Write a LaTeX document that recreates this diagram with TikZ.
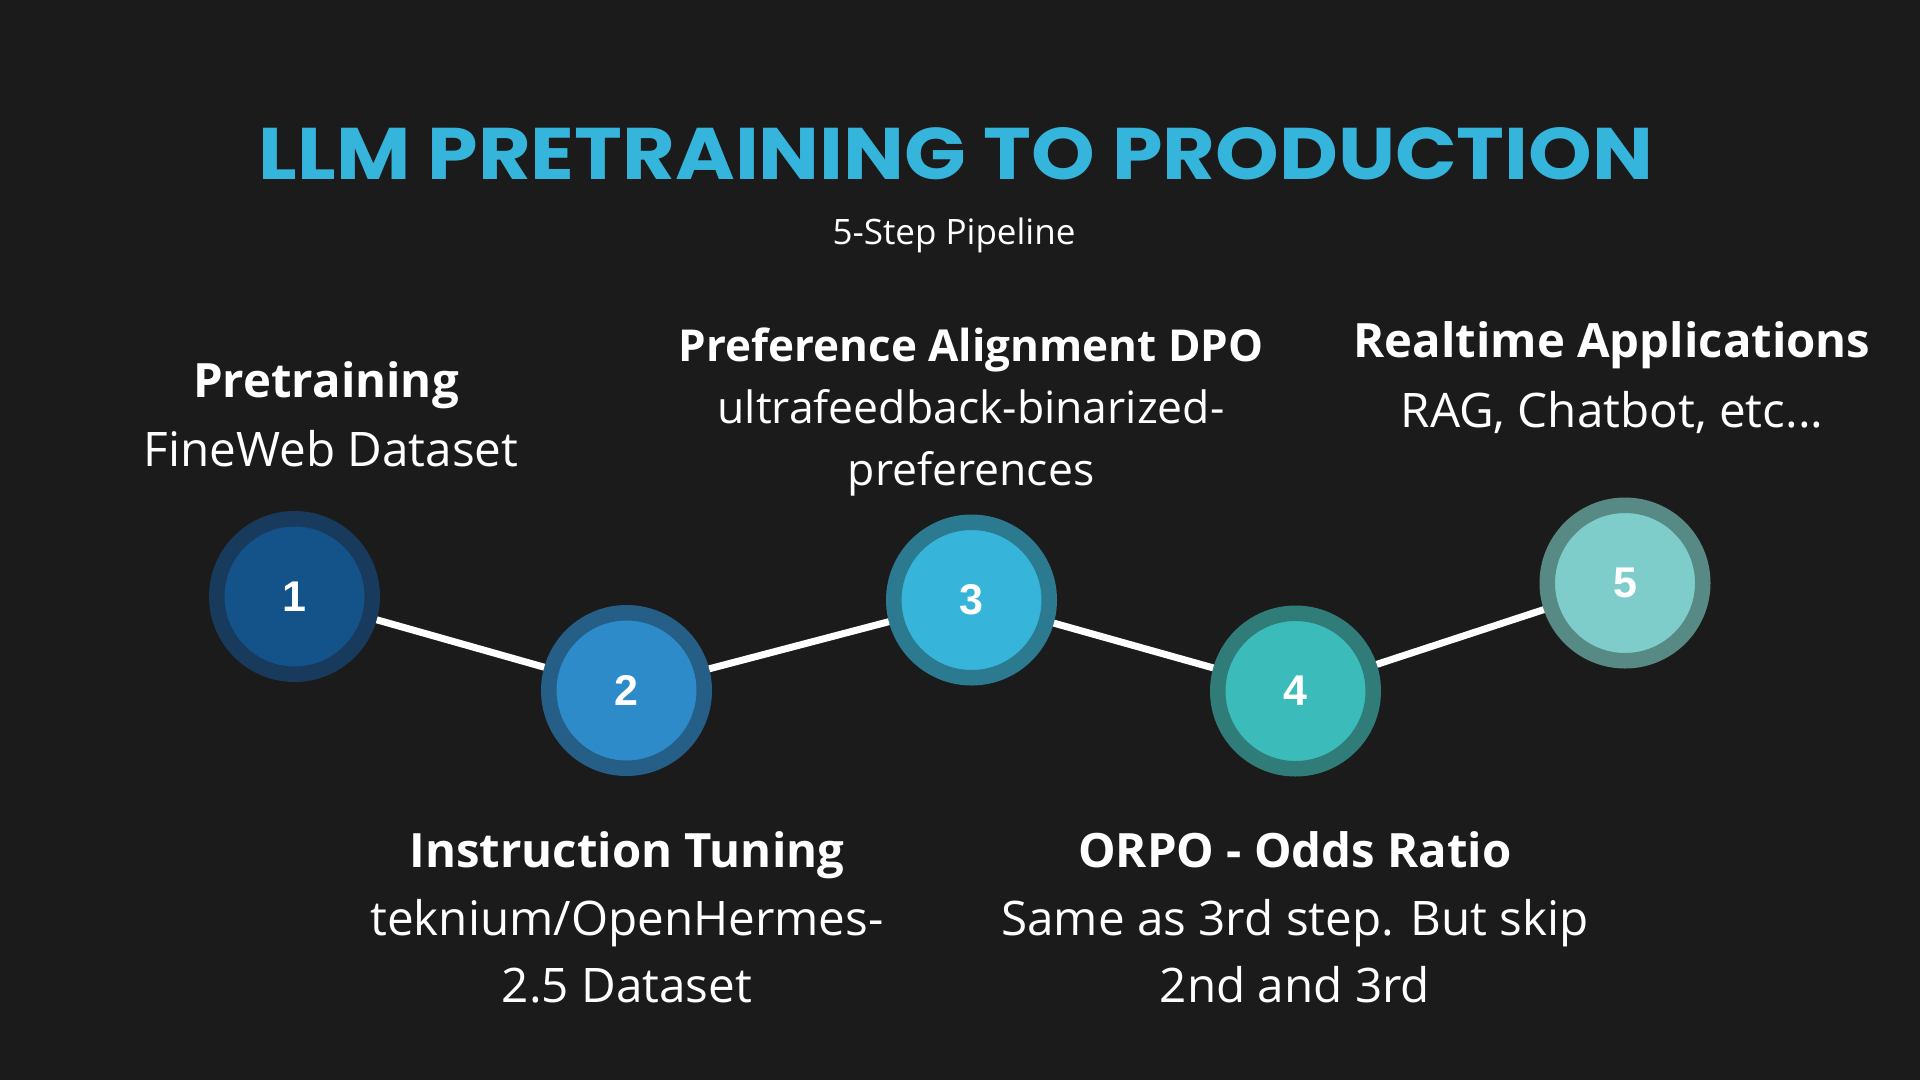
\documentclass[tikz,border=0pt]{standalone}
\usepackage{fontspec}
\setmainfont{Open Sans}
\newfontfamily\titlefont{Poppins}
\newfontfamily\numfont{Liberation Sans}
\definecolor{bg}{HTML}{1B1B1B}
\definecolor{titleblue}{HTML}{36B5DC}
\definecolor{cAout}{HTML}{183A5C}
\definecolor{cAin}{HTML}{14538A}
\definecolor{cBout}{HTML}{255F87}
\definecolor{cBin}{HTML}{2D8BCA}
\definecolor{cCout}{HTML}{2B7A8F}
\definecolor{cCin}{HTML}{36B4D9}
\definecolor{cDout}{HTML}{2F7C79}
\definecolor{cDin}{HTML}{3BBCBB}
\definecolor{cEout}{HTML}{578985}
\definecolor{cEin}{HTML}{7FCDCA}
\tikzset{
  stepcircle/.style={circle, minimum size=155.5pt, inner sep=0pt, line width=15.5pt,
    text=white, font=\numfont\bfseries\fontsize{43}{43}\selectfont},
  conn/.style={draw=white, line width=7pt},
  lbl/.style={anchor=base, inner sep=0pt, text=white},
  headA/.style={lbl, font=\bfseries\fontsize{47.3}{47.3}\selectfont},
  bodyA/.style={lbl, font=\fontsize{47.6}{47.6}\selectfont},
  headB/.style={lbl, font=\bfseries\fontsize{44}{44}\selectfont},
  bodyB/.style={lbl, font=\fontsize{44.5}{44.5}\selectfont}
}
\begin{document}
\begin{tikzpicture}[x=1pt,y=-1pt]
\fill[bg] (0,0) rectangle (1920,1080);
\useasboundingbox (0,0) rectangle (1920,1080);

\node[lbl, text=titleblue] (title) at (956,179)
  {\resizebox{1394pt}{52pt}{\titlefont\bfseries LLM PRETRAINING TO PRODUCTION}};
\node[lbl, font=\fontsize{35}{35}\selectfont] (subtitle) at (954,244) {5-Step Pipeline};

\node[stepcircle, fill=cAin, draw=cAout] (c1) at (294.5,596.5) {1};
\node[stepcircle, fill=cBin, draw=cBout] (c2) at (626.5,690.5) {2};
\node[stepcircle, fill=cCin, draw=cCout] (c3) at (971.5,600) {3};
\node[stepcircle, fill=cDin, draw=cDout] (c4) at (1295.5,691) {4};
\node[stepcircle, fill=cEin, draw=cEout] (c5) at (1625,583) {5};

\draw[conn] (c1) -- (c2);
\draw[conn] (c2) -- (c3);
\draw[conn] (c3) -- (c4);
\draw[conn] (c4) -- (c5);

\node[headA] (h1) at (326,397) {Pretraining};
\node[bodyA] (b1) at (331,466) {FineWeb Dataset};

\node[headA] (h2) at (627,867) {Instruction Tuning};
\node[bodyA] (b2a) at (627,935) {teknium/OpenHermes-};
\node[bodyA] (b2b) at (627,1002) {2.5 Dataset};

\node[headB] (h3) at (971,361) {Preference Alignment DPO};
\node[bodyB] (b3a) at (971,423) {ultrafeedback-binarized-};
\node[bodyB] (b3b) at (971,485) {preferences};

\node[headA] (h4) at (1295,867) {ORPO - Odds Ratio};
\node[bodyA] (b4a) at (1295,935) {Same as 3rd step. But skip};
\node[bodyA] (b4b) at (1295,1002) {2nd and 3rd};

\node[headA] (h5) at (1612,357) {Realtime Applications};
\node[bodyA] (b5) at (1612,427) {RAG, Chatbot, etc...};
\end{tikzpicture}
\end{document}
